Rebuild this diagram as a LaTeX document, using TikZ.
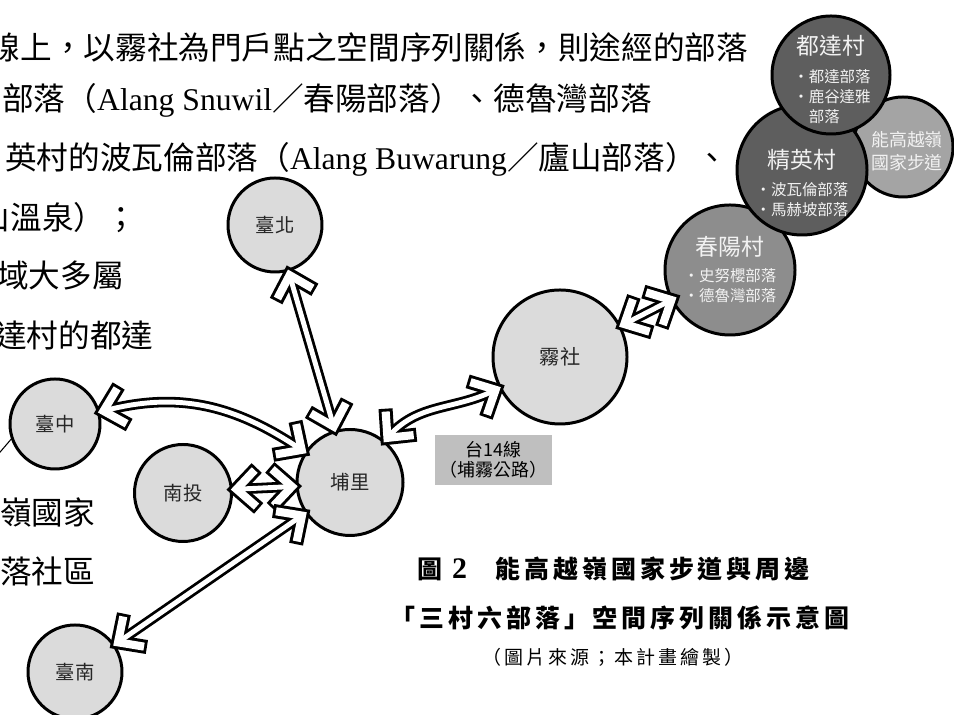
\documentclass[tikz,border=0pt]{standalone}
\usepackage{fontspec}
\setmainfont{Liberation Serif}
\newfontfamily\cjk{Noto Sans CJK TC}
\newfontfamily\cjkwide[LetterSpace=16]{Noto Sans CJK TC}
\newcommand{\romtext}[1]{{\rmfamily #1}}
\usetikzlibrary{decorations.markings}

\definecolor{townfill}{HTML}{DBDBDB}
\definecolor{villagedark}{HTML}{5E5E5E}
\definecolor{villagemid}{HTML}{8D8D8D}
\definecolor{trailfill}{HTML}{A4A4A4}
\definecolor{roadbox}{HTML}{BFBFBF}
\definecolor{paletext}{HTML}{F2F2F2}

\tikzset{
  bodytext/.style={anchor=west, inner sep=0pt, font=\cjk\fontsize{18}{21}\selectfont},
  town/.style={circle, draw, line width=1.7pt, fill=townfill, inner sep=0pt,
    outer sep=3pt, minimum size=#1, text=black!85,
    font=\cjk\fontsize{11}{13}\selectfont},
  village/.style={circle, draw, line width=1.7pt, fill=#1, inner sep=0pt, outer sep=0.5pt},
  vtitle/.style={text=paletext, inner sep=0pt, font=\cjk\fontsize{13}{15}\selectfont},
  vitems/.style={text=paletext, inner sep=0pt, align=left,
    font=\cjk\fontsize{8.8}{11.4}\selectfont},
  roadtag/.style={fill=roadbox, inner sep=0pt, minimum width=2.34cm, minimum height=1.0cm,
    align=center, font=\cjk\fontsize{10.2}{11.4}\selectfont},
  caption/.style={anchor=west, inner sep=0pt,
    font=\cjkwide\bfseries\fontsize{14.2}{17}\selectfont},
  chevron/.style={line join=miter, line cap=butt},
  link/.style={
    preaction={draw, black, line width=6pt},
    preaction={decorate, decoration={markings,
      mark=at position 0 with {\draw[chevron, black, line width=8pt]
        (12pt,11.5pt) -- (0,0) -- (12pt,-11.5pt);},
      mark=at position 0.9999 with {\draw[chevron, black, line width=8pt]
        (-12pt,11.5pt) -- (0,0) -- (-12pt,-11.5pt);}}},
    draw, white, line width=2.8pt,
    postaction={decorate, decoration={markings,
      mark=at position 0 with {\draw[chevron, white, line width=4.6pt]
        (10.8pt,10.4pt) -- (0,0) -- (10.8pt,-10.4pt);},
      mark=at position 0.9999 with {\draw[chevron, white, line width=4.6pt]
        (-10.8pt,10.4pt) -- (0,0) -- (-10.8pt,-10.4pt);}}}
  }
}

\begin{document}
\begin{tikzpicture}
	\useasboundingbox (0,0) rectangle (19.08,14.30);

	% page text behind the figure
	\node[bodytext] (line1) at (-0.23,13.35) {線上，以霧社為門戶點之空間序列關係，則途經的部落};
	\node[bodytext] (line2) at (0.04,12.30) {部落（\romtext{Alang Snuwil}／春陽部落）、德魯灣部落};
	\node[bodytext] (line3) at (0.10,11.12) {英村的波瓦倫部落（\romtext{Alang Buwarung}／廬山部落）、};
	\node[bodytext] (line4) at (-0.43,9.94) {山溫泉）；};
	\node[bodytext] (line5) at (-0.06,8.80) {域大多屬};
	\node[bodytext] (line6) at (-0.10,7.60) {達村的都達};
	\node[bodytext] (line8) at (0,4.06) {嶺國家};
	\node[bodytext] (line9) at (0,2.88) {落社區};
	\draw[line width=0.6pt] (-0.10,5.14) -- (0.26,5.56);

	% towns
	\node[town=1.88cm] (taibei) at (5.50,9.80) {臺北};
	\node[town=1.80cm] (taizhong) at (1.10,5.82) {臺中};
	\node[town=1.94cm] (nantou) at (3.66,4.44) {南投};
	\node[town=2.12cm] (puli) at (7.00,4.65) {埔里};
	\node[town=1.88cm] (tainan) at (1.50,0.86) {臺南};
	\node[town=2.68cm, font=\cjk\fontsize{11.5}{13}\selectfont] (wushe) at (11.20,7.16) {霧社};

	% villages and trail
	\node[village=trailfill, minimum size=2.0cm] (nenggao) at (18.06,11.36) {};
	\node[village=villagemid, minimum size=2.6cm] (chunyang) at (14.60,8.90) {};
	\node[village=villagedark, minimum size=2.6cm] (jingying) at (16.04,10.90) {};
	\node[village=villagedark, minimum size=2.36cm] (duda) at (16.62,12.80) {};

	\node[vtitle] (dudaname) at (16.62,13.38) {都達村};
	\node[vitems] (dudalist) at (16.64,12.36) {・都達部落\\・鹿谷達雅\\\phantom{・}部落};
	\node[vtitle] (jingyingname) at (16.04,11.10) {精英村};
	\node[vitems] (jingyinglist) at (16.04,10.30) {・波瓦倫部落\\・馬赫坡部落};
	\node[vtitle] (chunyangname) at (14.60,9.36) {春陽村};
	\node[vitems] (chunyanglist) at (14.60,8.58) {・史努櫻部落\\・德魯灣部落};
	\node[vitems, align=center, font=\cjk\fontsize{10.2}{13}\selectfont] (nenggaoname) at (18.14,11.28) {能高越嶺\\國家步道};

	\node[roadtag] (route) at (9.87,5.10) {台14線\\（埔霧公路）};

	% connections
	\draw[link] (taibei) -- (puli);
	\draw[link] (taizhong) to[out=15, in=146] (puli);
	\draw[link] (nantou.4) -- (puli.184);
	\draw[link] (tainan) -- (puli);
	\draw[link] (puli) to[out=50, in=207] (wushe);
	\draw[link] (wushe) -- (chunyang);

	% caption
	\node[caption] (capnum) at (8.34,2.92) {圖 \romtext{\fontsize{17}{20}\selectfont 2}};
	\node[caption] (captitle) at (9.90,2.92) {能高越嶺國家步道與周邊};
	\node[caption] (capsub) at (7.80,1.94) {「三村六部落」空間序列關係示意圖};
	\node[caption, font=\cjkwide\fontsize{10.8}{13}\selectfont] (capsrc) at (9.64,1.16) {（圖片來源；本計畫繪製）};
\end{tikzpicture}
\end{document}
